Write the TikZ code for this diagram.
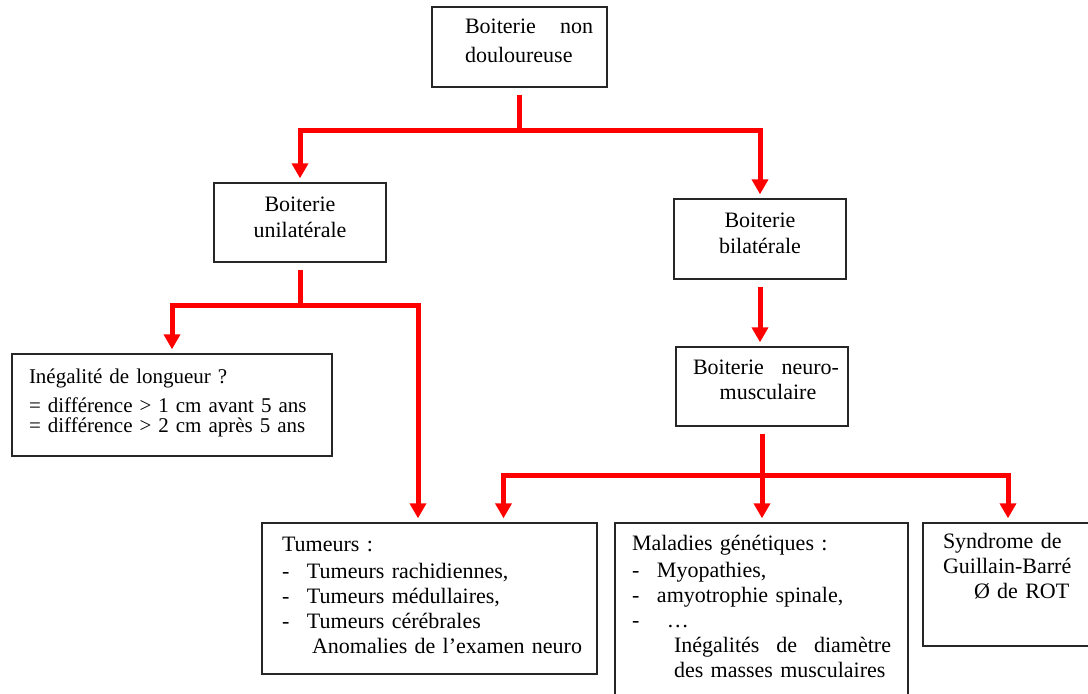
\documentclass[tikz,border=0pt]{standalone}
\usepackage{fontspec}
\setmainfont{Liberation Serif}
\usetikzlibrary{arrows.meta}
\newcommand{\tiret}{\makebox[12.5pt][l]{-}}

\begin{document}
\begin{tikzpicture}[x=0.5pt, y=-0.5pt,
	box/.style={draw=black!85, line width=0.7pt, inner sep=3pt, font=\fontsize{11pt}{12.5pt}\selectfont},
	stem/.style={red, line width=2.5pt, shorten <=3.5pt},
	link/.style={stem, -{Triangle[width=8pt, length=7.5pt]}, shorten >=2pt},
	fork/.style={red, line width=2.5pt, {Triangle[width=8pt, length=7.5pt]}-{Triangle[width=8pt, length=7.5pt]}, shorten <=2pt, shorten >=2pt}]

	\useasboundingbox (0, 0) rectangle (1088, 693);
	\clip (0, 0) rectangle (1088, 693);

	% boxes
	\node[box, minimum width=87.5pt, minimum height=40pt, text width=73.5pt, align=left, text depth=21pt] (top) at (519.5, 47)
		{\hspace*{9.5pt}Boiterie\hfill non\\[2pt]\hspace*{9.5pt}douloureuse};
	\node[box, minimum width=86pt, minimum height=39.5pt, align=center, text depth=5.5pt] (unil) at (300, 222.5)
		{Boiterie\\[0.5pt]unilatérale};
	\node[box, minimum width=86pt, minimum height=40pt, align=center, text depth=6pt] (bil) at (760, 239)
		{Boiterie\\[0.5pt]bilatérale};
	\node[box, minimum width=86pt, minimum height=39.5pt, text width=77pt, align=center, text depth=19.5pt] (neuro) at (762, 386.5)
		{\hspace*{4pt}Boiterie\hfill neuro-\\\hspace*{6pt}musculaire};
	\node[box, minimum width=160pt, minimum height=51pt, text width=143pt, align=left, text depth=29pt,
		font=\fontsize{10.5pt}{12.5pt}\selectfont] (ineg) at (172, 405)
		{Inégalité de longueur ?\\[2pt] = différence > 1 cm avant 5 ans\\[-2.5pt] = différence > 2 cm après 5 ans};
	\node[box, minimum width=167.5pt, minimum height=75.5pt, text width=147.5pt, align=left, text depth=54.5pt] (tum) at (429.5, 598.5)
		{Tumeurs :\\[1pt] \tiret Tumeurs rachidiennes,\\ \tiret Tumeurs médullaires,\\ \tiret Tumeurs cérébrales\\ \hspace*{15pt}\mbox{Anomalies de l’examen neuro}};
	\node[box, minimum width=146.5pt, minimum height=88.5pt, text width=129.5pt, align=left, text depth=68.5pt] (mal) at (761.5, 611.5)
		{Maladies génétiques :\\[1pt] \tiret Myopathies,\\ \tiret amyotrophie spinale,\\ \tiret\hspace*{5pt}…\\ \hspace*{21pt}Inégalités\hfill de\hfill diamètre\\ \hspace*{21pt}des masses musculaires};
	\node[box, minimum width=93.5pt, minimum height=61.5pt, text width=73.5pt, align=left, text depth=43.5pt] (syn) at (1016.5, 584.5)
		{Syndrome de\\ Guillain-Barré\\ \hspace*{15.5pt}Ø de ROT};

	% connectors
	\coordinate (j1) at (519.5, 130);
	\coordinate (j2) at (300, 305);
	\coordinate (j3) at (762, 475);

	\draw[stem] (top.south) -- (j1);
	\draw[fork] (unil.north) |- (j1) -| (bil.north);

	\draw[stem] (unil.south) -- (j2);
	\draw[fork] (ineg.north) |- (j2) -| ([xshift=-5.75pt]tum.north);

	\draw[link] (bil.south) -- (bil.south |- neuro.north);

	\draw[link] (neuro.south) -- (neuro.south |- mal.north);
	\draw[fork] ([xshift=37pt]tum.north) |- (j3) -| ([xshift=-4.25pt]syn.north);
\end{tikzpicture}
\end{document}
